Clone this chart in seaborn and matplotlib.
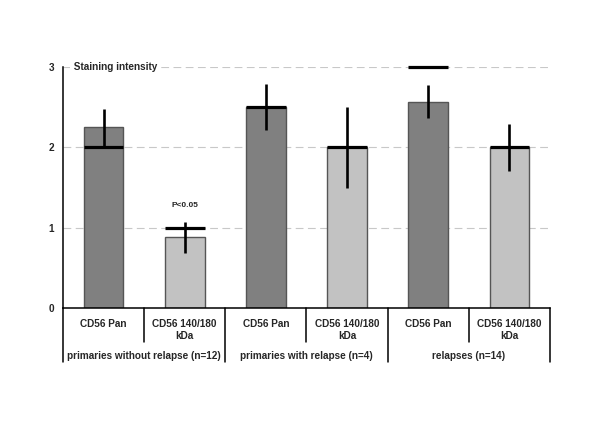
import numpy as np
import pandas as pd
import matplotlib
matplotlib.use("Agg")
import matplotlib.pyplot as plt
import seaborn as sns

# ---------- DATA ----------
groups = ["primaries without relapse (n=12)", "primaries with relapse (n=4)", "relapses (n=14)"]
markers = ["CD56 Pan", "CD56 140/180\nkDa"]
means = [2.25, 0.88, 2.50, 2.00, 2.57, 2.00]
errors = [0.23, 0.19, 0.29, 0.50, 0.21, 0.29]
medians = [2.0, 1.0, 2.5, 2.0, 3.0, 2.0]
yticks = [0, 1, 2, 3]

rows = []
for i, m in enumerate(means):
    rows.append({"slot": f"s{i}", "group": groups[i // 2],
                 "marker": markers[i % 2], "mean": m})
df = pd.DataFrame(rows)

# ---------- PLOT ----------
sns.set_style("white")
plt.rcParams["font.family"] = ["Liberation Sans", "DejaVu Sans"]
plt.rcParams["font.weight"] = "bold"

fig = plt.figure(figsize=(6.0, 4.24), dpi=100)
ax = fig.add_axes([63 / 600, 1 - 308 / 424, (550 - 63) / 600, (308 - 67) / 424])

sns.barplot(data=df, x="slot", y="mean", hue="marker", dodge=False,
            palette={markers[0]: "#808080", markers[1]: "#c2c2c2"},
            width=0.49, edgecolor="#555555", linewidth=1.0, ax=ax, legend=False)

xs = np.arange(len(means))
ax.errorbar(xs, means, yerr=errors, fmt="none", ecolor="black",
            elinewidth=1.9, capsize=0, clip_on=False, zorder=4)
ax.hlines(medians, xs - 0.245, xs + 0.245, colors="black", linewidth=2.3,
          clip_on=False, zorder=5)

ax.set_xlim(-0.5, 5.5)
ax.set_ylim(0, 3)
ax.set_yticks(yticks)
ax.set_yticklabels([str(t) for t in yticks], fontsize=7.2, fontweight="bold")
ax.tick_params(axis="y", direction="inout", length=7, width=1.0, pad=3)
ax.set_xticks([])
ax.set_xlabel("")
ax.set_ylabel("")
for t in yticks[1:]:
    ax.axhline(t, color="#c8c8c8", linewidth=0.8, dashes=(7, 4), zorder=0)
sns.despine(ax=ax)
for sp in ["left", "bottom"]:
    ax.spines[sp].set_linewidth(1.1)
    ax.spines[sp].set_color("black")

ax.text(0.1 / 6, 3, " Staining intensity", transform=ax.get_yaxis_transform(),
        ha="left", va="center", fontsize=7.2, fontweight="bold",
        bbox=dict(facecolor="white", edgecolor="none", pad=1))

ax.text(1, medians[1] + 0.27, "P<0.05", ha="center", va="center",
        fontsize=6, fontweight="bold")

# category table below the axis
trans = ax.get_xaxis_transform()
for b in range(7):
    x = b - 0.5
    low = -0.224 if b % 2 == 0 else -0.141
    ax.plot([x, x], [0, low], color="black", linewidth=1.1,
            transform=trans, clip_on=False)
for i in range(len(means)):
    ax.text(i, -0.045, markers[i % 2], transform=trans, ha="center", va="top",
            fontsize=7.2, fontweight="bold", linespacing=1.3)
for g, name in enumerate(groups):
    ax.text(2 * g + 0.5, -0.2, name, transform=trans, ha="center", va="center",
            fontsize=7.2, fontweight="bold")

fig.savefig("out.png", dpi=100)
